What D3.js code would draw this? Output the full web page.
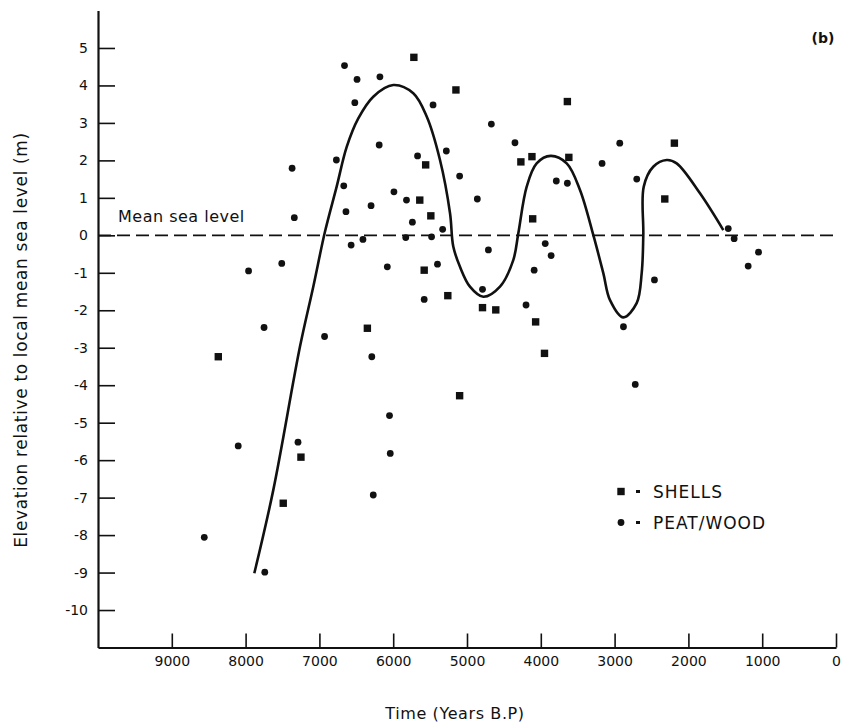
<!DOCTYPE html>
<html>
<head>
<meta charset="utf-8">
<script src="https://cdn.jsdelivr.net/npm/d3@7"></script>
<style>
  html, body { margin: 0; padding: 0; background: #fff; }
  svg { display: block; font-family: "DejaVu Sans", sans-serif; }
</style>
</head>
<body>
<svg id="chart" width="842" height="724"></svg>
<script>
// Radiocarbon-dated sea-level indicators: age (years B.P.) and elevation (m)
const shellYears = [5720, 5150, 3640, 5560, 4270, 4120, 3620, 2190, 2320, 5640, 5490, 4110, 5580, 5260, 4790, 4610, 4070, 3950, 6350, 5100, 7250, 8370, 7490];
const shellElev  = [4.75, 3.88, 3.57, 1.88, 1.96, 2.10, 2.08, 2.46, 0.97, 0.94, 0.52, 0.44, -0.93, -1.61, -1.93, -1.99, -2.31, -3.15, -2.48, -4.28, -5.92, -3.24, -7.15];

const peatYears = [6660, 6490, 6180, 6520, 5460, 4670, 6190, 4350, 6770, 5670, 5280, 7370, 5100, 3790, 3640, 6670, 5990, 5820, 4860, 6640,
                   6300, 7340, 5740, 5330, 6570, 6410, 5830, 5480, 4710, 3940, 2930, 3170, 2700, 1460, 1380, 1050, 1190, 7510, 6080, 5400,
                   4790, 3860, 4090, 5580, 4200, 6930, 6290, 6050, 6040, 7290, 2460, 2880, 2720, 7960, 7750, 8100, 8560, 7740, 6270];
const peatElev  = [4.53, 4.16, 4.23, 3.54, 3.48, 2.97, 2.41, 2.47, 2.01, 2.12, 2.25, 1.79, 1.58, 1.45, 1.39, 1.32, 1.16, 0.94, 0.97, 0.63,
                   0.79, 0.47, 0.35, 0.16, -0.26, -0.11, -0.06, -0.04, -0.39, -0.22, 2.46, 1.92, 1.50, 0.18, -0.09, -0.45, -0.82, -0.75, -0.84, -0.77,
                   -1.44, -0.54, -0.93, -1.71, -1.86, -2.70, -3.24, -4.81, -5.82, -5.52, -1.19, -2.44, -3.98, -0.95, -2.46, -5.62, -8.06, -8.99, -6.93];

// Hand-fitted sea-level curve
const curveYears = [7882, 7625, 7263, 7083, 6924, 6766, 6630, 6473, 6270, 5999, 5728, 5546, 5366, 5230, 5186, 5095, 4960, 4779, 4553,
                    4373, 4305, 4191, 4056, 3866, 3649, 3469, 3289, 3153, 3062, 2882, 2701, 2633, 2611, 2605, 2476, 2294, 2159, 1843, 1527];
const curveElev  = [-9.02, -6.80, -2.97, -1.37, 0.10, 1.30, 2.36, 3.12, 3.70, 4.01, 3.79, 3.17, 2.01, 0.59, -0.30, -0.84, -1.37, -1.64, -1.37,
                    -0.66, 0.05, 1.30, 1.92, 2.12, 1.92, 1.21, 0.01, -1.01, -1.73, -2.19, -1.81, -1.01, 0.01, 1.30, 1.83, 2.01, 1.92, 1.12, 0.14];

const xTickValues = [9000, 8000, 7000, 6000, 5000, 4000, 3000, 2000, 1000, 0];
const yTickValues = [5, 4, 3, 2, 1, 0, -1, -2, -3, -4, -5, -6, -7, -8, -9, -10];
const legendLabels = ["SHELLS", "PEAT/WOOD"];

const svg = d3.select("#chart");
const ink = "#111";

const x = d3.scaleLinear().domain([10000, 0]).range([98, 836]);
const y = d3.scaleLinear().domain([-11, 6]).range([647.5, 10.5]);

// Axes (ticks point into the plot; plain hyphen for negatives)
const plain = d => String(d);
const yAxis = d3.axisLeft(y).tickValues(yTickValues).tickSize(-17).tickSizeOuter(0).tickPadding(10).tickFormat(plain);
const xAxis = d3.axisBottom(x).tickValues(xTickValues).tickSize(-14).tickSizeOuter(0).tickPadding(9).tickFormat(plain);

const gy = svg.append("g").attr("transform", `translate(${x(10000)},0)`).call(yAxis);
const gx = svg.append("g").attr("transform", `translate(0,${y(-11)})`).call(xAxis);

[gy, gx].forEach(g => {
  g.select(".domain").attr("stroke", ink).attr("stroke-width", 2.2);
  g.selectAll(".tick line").attr("stroke", ink).attr("stroke-width", 1.6);
  g.selectAll(".tick text").attr("fill", ink).attr("font-size", 14).attr("font-family", "DejaVu Sans, sans-serif");
});

// Mean sea level reference
svg.append("line")
  .attr("x1", x(10000)).attr("x2", 833)
  .attr("y1", y(0)).attr("y2", y(0))
  .attr("stroke", ink).attr("stroke-width", 1.8)
  .attr("stroke-dasharray", "13,6");

svg.append("text")
  .attr("x", 118).attr("y", y(0) - 13)
  .attr("font-size", 16).attr("letter-spacing", 0.5).attr("fill", ink)
  .text("Mean sea level");

// Fitted curve
const curvePts = curveYears.map((t, i) => [t, curveElev[i]]);
svg.append("path")
  .datum(curvePts)
  .attr("fill", "none")
  .attr("stroke", ink)
  .attr("stroke-width", 2.6)
  .attr("stroke-linejoin", "round")
  .attr("d", d3.line().x(d => x(d[0])).y(d => y(d[1])).curve(d3.curveCatmullRom.alpha(0.5)));

// Peat / wood samples
svg.append("g").selectAll("circle")
  .data(peatYears.map((t, i) => [t, peatElev[i]]))
  .join("circle")
  .attr("cx", d => x(d[0])).attr("cy", d => y(d[1]))
  .attr("r", 3.4).attr("fill", ink);

// Shell samples
const sq = 7.4;
svg.append("g").selectAll("rect")
  .data(shellYears.map((t, i) => [t, shellElev[i]]))
  .join("rect")
  .attr("x", d => x(d[0]) - sq / 2).attr("y", d => y(d[1]) - sq / 2)
  .attr("width", sq).attr("height", sq).attr("fill", ink);

// Legend
const lg = svg.append("g").attr("transform", "translate(621,491.5)");
legendLabels.forEach((lab, i) => {
  const row = lg.append("g").attr("transform", `translate(0,${i * 31})`);
  if (i === 0) row.append("rect").attr("x", -3.7).attr("y", -3.7).attr("width", 7.4).attr("height", 7.4).attr("fill", ink);
  else row.append("circle").attr("r", 3.4).attr("fill", ink);
  row.append("rect").attr("x", 15).attr("y", -1.5).attr("width", 4).attr("height", 3).attr("fill", ink);
  row.append("text").attr("x", 32).attr("y", 6).attr("font-size", 17).attr("letter-spacing", 1).attr("fill", ink).text(lab);
});

// Panel tag
svg.append("text").attr("x", 823).attr("y", 43).attr("text-anchor", "middle")
  .attr("font-size", 14).attr("font-weight", "bold").attr("fill", ink).text("(b)");

// Axis titles
svg.append("text")
  .attr("transform", "translate(27,340) rotate(-90)")
  .attr("text-anchor", "middle").attr("font-size", 17).attr("letter-spacing", 0.65).attr("fill", ink)
  .text("Elevation relative to local mean sea level (m)");

svg.append("text")
  .attr("x", 455).attr("y", 719).attr("text-anchor", "middle")
  .attr("font-size", 16).attr("letter-spacing", 0.6).attr("fill", ink)
  .text("Time (Years B.P)");
</script>
</body>
</html>
